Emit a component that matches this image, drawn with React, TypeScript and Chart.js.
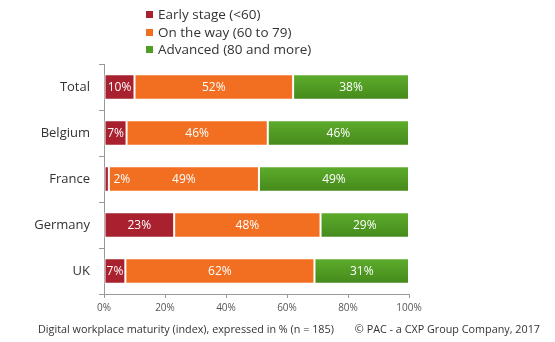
import React, { useEffect, useRef } from "react";
import { Chart, registerables } from "chart.js";

Chart.register(...registerables);

const categories = ["Total", "Belgium", "France", "Germany", "UK"];
const seriesNames = ["Early stage (<60)", "On the way (60 to 79)", "Advanced (80 and more)"];
const earlyStage = [10, 7.4, 1.6, 23, 7];
const onTheWay = [52, 46.3, 49.2, 48, 62];
const advanced = [38, 46.3, 49.2, 29, 31];
const seriesColors = ["#A9212F", "#F26F21", "#519C24"];
const xTicks = [0, 20, 40, 60, 80, 100];
const footerLeft = "Digital workplace maturity (index), expressed in % (n = 185)";
const footerRight = "© PAC - a CXP Group Company, 2017";

const FONT = "'Open Sans', 'DejaVu Sans', sans-serif";

export default function App() {
  const ref = useRef<HTMLCanvasElement | null>(null);
  useEffect(() => {
    const canvas = ref.current!;
    const greenFill = (c: any) => {
      const chart = c.chart;
      const ys = chart.scales && chart.scales.y;
      if (!ys || c.dataIndex === undefined) return seriesColors[2];
      const y = ys.getPixelForValue(c.dataIndex);
      if (!isFinite(y)) return seriesColors[2];
      const h = 13;
      const g = chart.ctx.createLinearGradient(0, y - h, 0, y + h);
      g.addColorStop(0, "#5DAD2C");
      g.addColorStop(1, "#45891B");
      return g;
    };
    const labelsPlugin = {
      id: "segLabels",
      afterDatasetsDraw(chart: any) {
        const ctx = chart.ctx;
        ctx.save();
        ctx.font = `12px ${FONT}`;
        ctx.fillStyle = "#ffffff";
        ctx.textAlign = "center";
        ctx.textBaseline = "middle";
        chart.data.datasets.forEach((ds: any, di: number) => {
          const meta = chart.getDatasetMeta(di);
          meta.data.forEach((el: any, i: number) => {
            const v = Math.round(ds.data[i]);
            const start = el.base;
            const end = el.x;
            const w = end - start;
            let cx = (start + end) / 2;
            if (w < 12) cx = end + 13;
            ctx.fillText(v + "%", cx, el.y + 1);
          });
        });
        ctx.restore();
      },
    };
    const decorPlugin = {
      id: "decor",
      afterDraw(chart: any) {
        const ctx = chart.ctx;
        ctx.save();
        ctx.textBaseline = "middle";
        ctx.textAlign = "left";
        ctx.font = `13.5px ${FONT}`;
        const ys = [14, 32, 49];
        seriesNames.forEach((n, i) => {
          ctx.fillStyle = seriesColors[i];
          ctx.fillRect(146, ys[i] - 3, 7, 7);
          ctx.fillStyle = "#333333";
          ctx.fillText(n, 158, ys[i] + 1);
        });
        ctx.font = `10.8px ${FONT}`;
        ctx.fillStyle = "#333333";
        ctx.fillText(footerLeft, 38, 330);
        ctx.textAlign = "right";
        ctx.fillText(footerRight, 540, 330);
        ctx.restore();
      },
    };
    const chart = new Chart(canvas, {
      type: "bar",
      data: {
        labels: categories,
        datasets: [earlyStage, onTheWay, advanced].map((d, i) => ({
          label: seriesNames[i],
          data: d,
          backgroundColor: i === 2 ? greenFill : seriesColors[i],
          borderColor: "#ffffff",
          borderWidth: 1,
          borderSkipped: false,
          categoryPercentage: 1,
          barPercentage: 0.55,
        })),
      },
      options: {
        indexAxis: "y",
        animation: false,
        responsive: false,
        maintainAspectRatio: false,
        layout: { padding: { top: 64, right: 146, left: 0, bottom: 0 } },
        plugins: { legend: { display: false }, tooltip: { enabled: false } },
        scales: {
          x: {
            stacked: true,
            min: 0,
            max: 100,
            afterBuildTicks: (s: any) => {
              s.ticks = xTicks.map((v) => ({ value: v }));
            },
            afterFit: (s: any) => {
              s.height = 48;
            },
            ticks: {
              callback: (v: any) => v + "%",
              font: { family: FONT, size: 10 },
              color: "#555555",
              padding: 4,
              maxRotation: 0,
            },
            grid: { drawOnChartArea: false, tickLength: 4, color: "#999999" },
            border: { color: "#999999" },
          },
          y: {
            stacked: true,
            afterFit: (s: any) => {
              s.width = 104;
            },
            ticks: {
              font: { family: FONT, size: 13 },
              color: "#333333",
              padding: 9,
            },
            grid: { drawOnChartArea: false, offset: true, tickLength: 5, color: "#999999" },
            border: { color: "#999999" },
          },
        },
      },
      plugins: [labelsPlugin, decorPlugin],
    });
    return () => chart.destroy();
  }, []);
  return (
    <div style={{ position: "fixed", left: 0, top: 0, width: 555, height: 342, background: "#fff" }}>
      <canvas ref={ref} width={555} height={342} style={{ width: 555, height: 342 }} />
    </div>
  );
}
